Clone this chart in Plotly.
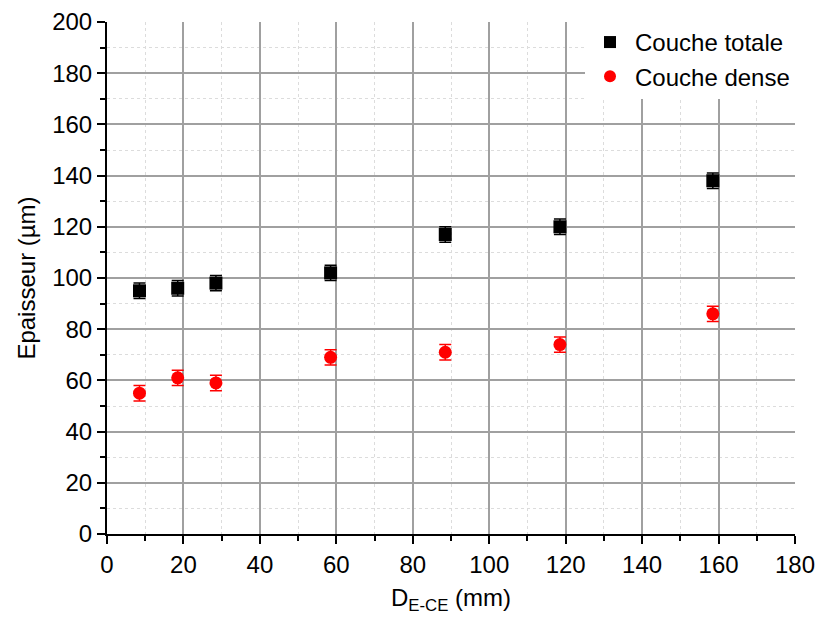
import plotly.graph_objects as go

x_vals = [8.5, 18.5, 28.5, 58.5, 88.5, 118.5, 158.5]
totale = [95, 96, 98, 102, 117, 120, 138]
totale_err = [3, 3, 3, 3, 3, 3, 3]
dense = [55, 61, 59, 69, 71, 74, 86]
dense_err = [3, 3, 3, 3, 3, 3, 3]

FONT = "Liberation Sans, Arial, sans-serif"

fig = go.Figure()
fig.add_trace(go.Scatter(
    x=x_vals, y=totale, mode="markers", name="Couche totale",
    marker=dict(symbol="square", size=13, color="black"),
    error_y=dict(type="data", array=totale_err, color="black", thickness=1.5, width=6),
))
fig.add_trace(go.Scatter(
    x=x_vals, y=dense, mode="markers", name="Couche dense",
    marker=dict(symbol="circle", size=13, color="#ff0000"),
    error_y=dict(type="data", array=dense_err, color="#ff0000", thickness=1.5, width=6),
))

axis_common = dict(
    showline=True, linecolor="black", linewidth=2,
    ticks="outside", ticklen=8, tickwidth=2, tickcolor="black",
    showgrid=True, gridcolor="#a0a0a0", gridwidth=1.5,
    zeroline=False, mirror=False, automargin=False,
    tickfont=dict(family=FONT, size=24, color="black"),
)
minor = dict(dtick=10, ticks="outside", ticklen=5, tickwidth=2, tickcolor="black",
             showgrid=True, gridcolor="#dcdcdc", griddash="dot", gridwidth=1)

fig.update_xaxes(
    range=[0, 180], dtick=20, tick0=0,
    title=dict(text="D<sub>E-CE</sub> (mm)", font=dict(family=FONT, size=24, color="black"), standoff=12),
    minor=minor,
    **axis_common,
)
fig.update_yaxes(
    range=[0, 200], dtick=20, tick0=0,
    title=dict(text="Epaisseur (µm)", font=dict(family=FONT, size=24, color="black"), standoff=10),
    minor=minor,
    **axis_common,
)

fig.update_layout(
    width=817, height=624,
    margin=dict(l=107, r=22, t=22, b=90),
    plot_bgcolor="white", paper_bgcolor="white",
    legend=dict(x=1, y=1.004, xanchor="right", yanchor="top",
                bgcolor="white", borderwidth=0,
                font=dict(family=FONT, size=24, color="black"),
                itemsizing="constant", itemwidth=40, tracegroupgap=0),
    showlegend=True,
)

fig.write_html(
    "out.html",
    config={"displayModeBar": False},
    post_script="document.body.style.margin='0';document.body.style.overflow='hidden';",
)
